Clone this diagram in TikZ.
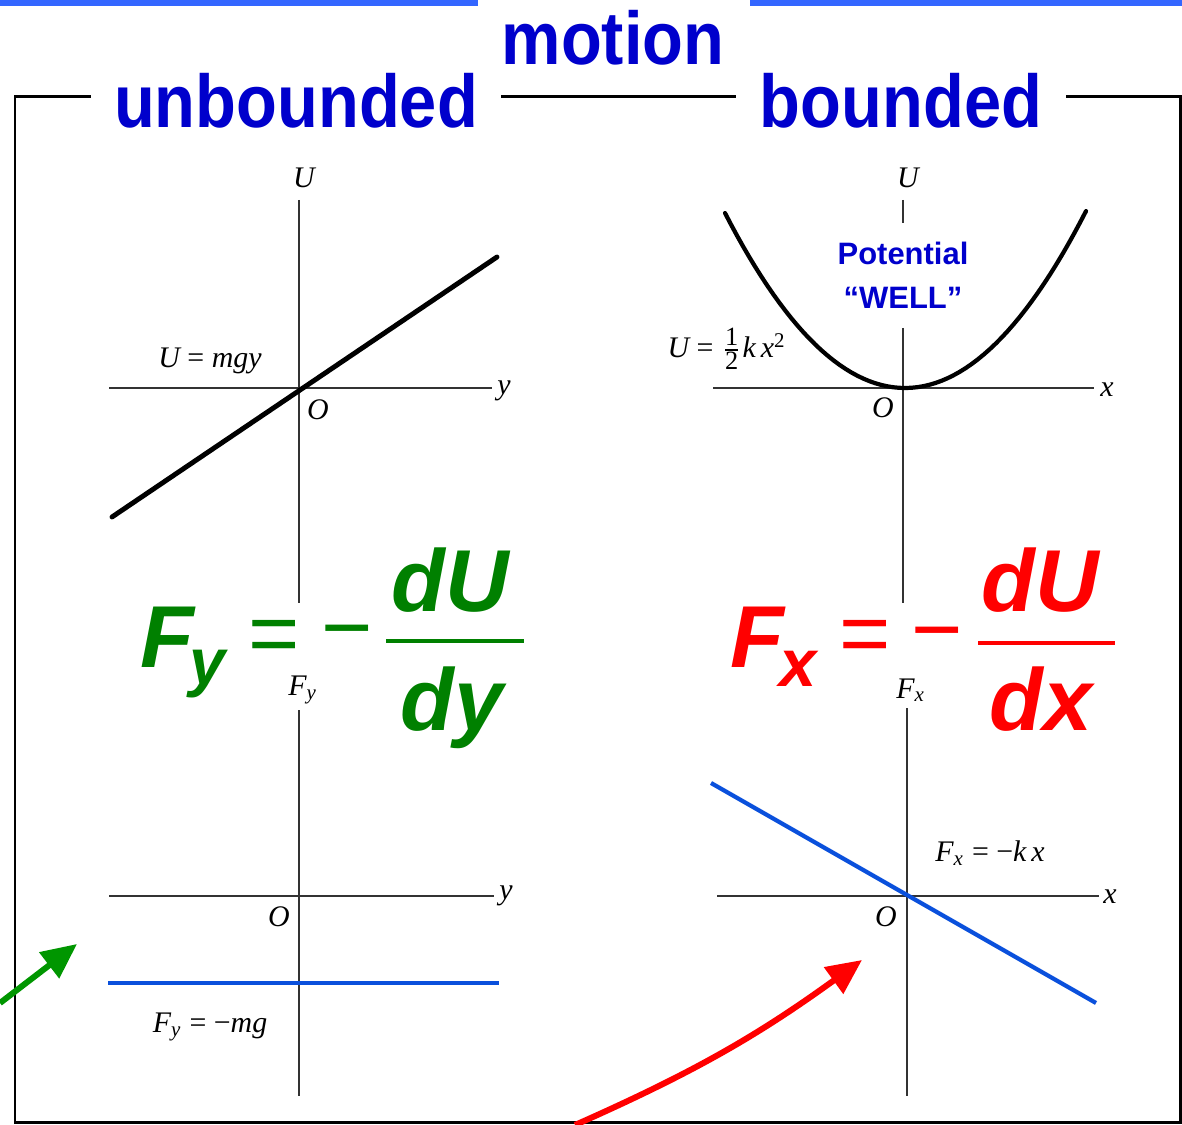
\documentclass[tikz,border=0pt]{standalone}
\usepackage{amsmath}
\usepackage{fontspec}
\usepackage{tikz}
\usetikzlibrary{arrows.meta}
\newfontfamily\titlefont{Liberation Sans}
\newfontfamily\bookfont{Liberation Serif}
\definecolor{titleblue}{RGB}{0,0,204}
\definecolor{barblue}{RGB}{51,102,255}
\definecolor{forceblue}{RGB}{10,80,220}
\definecolor{eqgreen}{RGB}{0,128,0}
\definecolor{arrowgreen}{RGB}{0,150,0}
\definecolor{eqred}{RGB}{255,0,0}

\begin{document}
\begin{tikzpicture}[x=0.01cm, y=-0.01cm,
  heading/.style={font=\titlefont\bfseries\fontsize{19}{19}\selectfont, text=titleblue, anchor=base, inner xsep=6.5pt},
  well/.style={font=\titlefont\bfseries\fontsize{8.8}{10}\selectfont, text=titleblue, inner sep=0pt},
  frame/.style={line width=0.85pt},
  axis/.style={draw=black!80, line width=0.6pt},
  curve/.style={line width=1.4pt, line cap=round},
  force/.style={draw=forceblue, line width=1.2pt},
  lbl/.style={font=\bookfont\itshape\fontsize{8.5}{10}\selectfont, inner sep=0pt},
  eq/.style={font=\titlefont\bfseries\itshape\fontsize{25}{25}\selectfont, inner sep=0pt},
  eqsign/.style={font=\titlefont\fontsize{25}{25}\selectfont, inner sep=0pt},
  eqbar/.style={line width=0.9pt},
  pointer/.style={line width=1.7pt, -{Triangle[length=10pt,width=9pt]}}
]
\useasboundingbox (0,0) rectangle (1182,1125);
% Top bars and headings
\fill[barblue] (0,0) rectangle (478,6);
\fill[barblue] (750,0) rectangle (1182,6);
\node[heading] (unb) at (296,128) {\scalebox{1}[1.12]{unbounded}};
\node[heading] (mot) at (613,65) {\scalebox{1}[1.12]{motion}};
\node[heading] (bnd) at (901,128) {\scalebox{1}[1.12]{bounded}};
% Frame
\coordinate (ftl) at (15,97);
\coordinate (fbr) at (1180,1122);
\draw[frame] (unb.west |- ftl) -- (ftl) -- (ftl |- fbr) -- (fbr) -- (fbr |- ftl) -- (bnd.east |- ftl);
\draw[frame] (unb.east |- ftl) -- (bnd.west |- ftl);

% U = mgy
\draw[axis] (299,200) -- (299,603);
\draw[axis] (109,388) -- (492,388);
\draw[curve] (112,517) -- (497,257);
\node[lbl] (uA) at (304,178) {U};
\node[lbl] (yA) at (504,391) {y};
\node[lbl] (oA) at (318,410) {O};
\node[lbl] (eqA) at (210,361) {U\upshape{} = \itshape mgy};

% U = kx^2/2
\draw[axis] (903,200) -- (903,223);
\draw[axis] (903,328) -- (903,603);
\draw[axis] (713,388) -- (1094,388);
\draw[curve, line width=1.2pt] plot[domain=-18:18.1, samples=61] ({905+10*\x},{388-0.54*\x*\x});
\node[lbl] (uB) at (908,178) {U};
\node[lbl] (xB) at (1107,390) {x};
\node[lbl] (oB) at (883,408) {O};
\node[lbl] (eqB) at (727,349) {U\upshape{} = $\genfrac{}{}{0.4pt}{}{\text{\upshape\fontsize{7.5}{8}\selectfont 1}}{\text{\upshape\fontsize{7.5}{8}\selectfont 2}}$\itshape k\,x\textsuperscript{\upshape 2}};
\node[well] (pot) at (903,253) {Potential};
\node[well] (wel) at (903,298) {“WELL”};

% F = -mg
\draw[axis] (299,710) -- (299,1096);
\draw[axis] (109,896) -- (494,896);
\draw[force] (108,983) -- (499,983);
\node[lbl] (fC) at (303,690) {F\textsubscript{y}};
\node[lbl] (yC) at (506,896) {y};
\node[lbl] (oC) at (279,917) {O};
\node[lbl] (eqC) at (210,1027) {F\textsubscript{y}\upshape{} = −\itshape mg};

% F = -kx
\draw[axis] (907,708) -- (907,1096);
\draw[axis] (717,896) -- (1099,896);
\draw[force] (711,783) -- (1096,1003);
\node[lbl] (fD) at (911,690) {F\textsubscript{x}};
\node[lbl] (xD) at (1110,897) {x};
\node[lbl] (oD) at (886,917) {O};
\node[lbl] (eqD) at (990,853) {F\textsubscript{x}\upshape{} = −\itshape k\,x};

% Derivative relations
\node[eq, text=eqgreen, anchor=base west] (fyF) at (140,667) {F\kern-1.5pt\raisebox{-5pt}{\fontsize{18.5}{18.5}\selectfont y}};
\node[eqsign, text=eqgreen] (fyEq) at (274,642) {=};
\node[eqsign, text=eqgreen] (fyMin) at (347,641) {−};
\node[eq, text=eqgreen, anchor=base] (fyNum) at (450,611) {dU};
\node[eq, text=eqgreen, anchor=base] (fyDen) at (452,730) {dy};
\draw[eqbar, eqgreen] (386,641) -- (524,641);

\node[eq, text=eqred, anchor=base west] (fxF) at (730,667) {F\kern-1.5pt\raisebox{-5.5pt}{\fontsize{19}{19}\selectfont x}};
\node[eqsign, text=eqred] (fxEq) at (865,642) {=};
\node[eqsign, text=eqred] (fxMin) at (937,643) {−};
\node[eq, text=eqred, anchor=base] (fxNum) at (1040,611) {dU};
\node[eq, text=eqred, anchor=base] (fxDen) at (1041,730) {dx};
\draw[eqbar, eqred] (978,643) -- (1115,643);

% Pointers
\coordinate (gTail) at (0,1003);
\coordinate (gTip) at (77,944);
\draw[pointer, arrowgreen] (gTail) -- (gTip);
\coordinate (rTail) at (575,1125);
\coordinate (rTip) at (862,960);
\draw[pointer, eqred] (rTail) to[bend right=6] (rTip);
\end{tikzpicture}
\end{document}
